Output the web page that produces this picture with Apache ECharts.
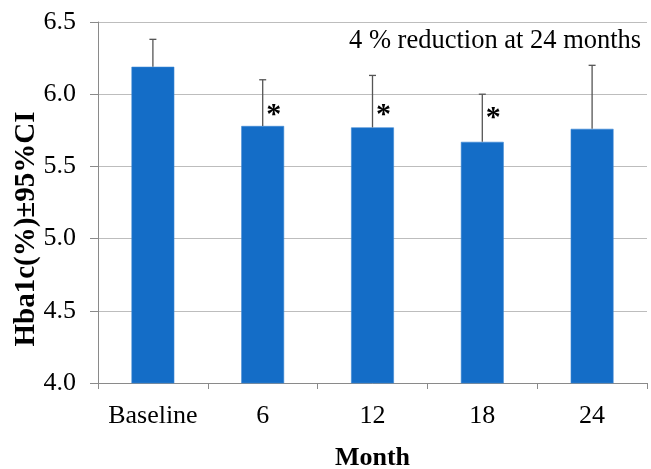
<!DOCTYPE html>
<html>
<head>
<meta charset="utf-8">
<script src="https://cdn.jsdelivr.net/npm/echarts@6/dist/echarts.min.js"></script>
<style>html,body{margin:0;padding:0;background:#fff}#c{width:651px;height:469px}</style>
</head>
<body>
<div id="c"></div>
<script>
const categories = ['Baseline', '6', '12', '18', '24'];
const meanValues = [6.19, 5.78, 5.77, 5.67, 5.76];
const upperCI = [6.38, 6.10, 6.13, 6.00, 6.20];
const sigMarkY = [null, 5.89, 5.89, 5.87, null];
const yTicks = { min: 4.0, max: 6.5, interval: 0.5 };
const annotation = '4 % reduction at 24 months';
const xName = 'Month';
const yName = 'Hba1c(%)±95%CI';

const FONT = '"Liberation Serif", "Times New Roman", serif';
const chart = echarts.init(document.getElementById('c'), null, { renderer: 'canvas' });

chart.setOption({
  animation: false,
  grid: { left: 98, top: 22, right: 4, bottom: 86, containLabel: false, outerBoundsMode: 'none' },
  xAxis: {
    type: 'category',
    data: categories,
    name: xName,
    nameLocation: 'middle',
    nameGap: 62,
    nameTextStyle: { fontFamily: FONT, fontSize: 26, fontWeight: 'bold', color: '#000' },
    axisLine: { lineStyle: { color: '#8a8a8a', width: 1 } },
    axisTick: { show: true, length: 6, lineStyle: { color: '#8a8a8a' } },
    axisLabel: { fontFamily: FONT, fontSize: 26, color: '#000', margin: 20, interval: 0 },
    splitLine: { show: false }
  },
  yAxis: {
    type: 'value',
    min: yTicks.min, max: yTicks.max, interval: yTicks.interval,
    axisLine: { show: true, lineStyle: { color: '#8a8a8a', width: 1 } },
    axisTick: { show: true, length: 8, lineStyle: { color: '#8a8a8a' } },
    axisLabel: { fontFamily: FONT, fontSize: 26, color: '#000', margin: 22,
      formatter: v => v.toFixed(1) },
    splitLine: { show: true, lineStyle: { color: '#bdbdbd', width: 1.2 } }
  },
  series: [
    {
      type: 'bar',
      data: meanValues,
      barWidth: '39%',
      itemStyle: { color: '#146dc7', borderColor: '#3a86d4', borderWidth: 0.6 },
      z: 2
    },
    {
      type: 'custom',
      z: 3,
      data: meanValues.map((v, i) => [i, v, upperCI[i]]),
      renderItem: function (params, api) {
        const base = api.coord([api.value(0), api.value(1)]);
        const top = api.coord([api.value(0), api.value(2)]);
        const cap = 3.5;
        return {
          type: 'group',
          children: [
            { type: 'line', shape: { x1: base[0], y1: base[1], x2: top[0], y2: top[1] },
              style: { stroke: '#555', lineWidth: 1.3 } },
            { type: 'line', shape: { x1: top[0] - cap, y1: top[1], x2: top[0] + cap, y2: top[1] },
              style: { stroke: '#555', lineWidth: 1.3 } }
          ]
        };
      }
    },
    {
      type: 'custom',
      z: 4,
      data: sigMarkY.map((v, i) => [i, v]).filter(d => d[1] != null),
      renderItem: function (params, api) {
        const p = api.coord([api.value(0), api.value(1)]);
        return {
          type: 'text',
          x: p[0] + 11, y: p[1] + 5,
          style: { text: '*', fontFamily: FONT, fontSize: 30, fontWeight: 'bold', fill: '#000',
            align: 'center', verticalAlign: 'middle' }
        };
      }
    }
  ],
  graphic: [
    {
      type: 'text', left: 349, top: 28,
      style: { text: annotation, fontFamily: FONT, fontSize: 26.5, fill: '#000' }
    },
    {
      type: 'text', x: 27, y: 229, rotation: Math.PI / 2,
      style: { text: yName, fontFamily: FONT, fontSize: 29, fontWeight: 'bold', fill: '#000',
        align: 'center', verticalAlign: 'middle' }
    }
  ]
});
</script>
</body>
</html>
